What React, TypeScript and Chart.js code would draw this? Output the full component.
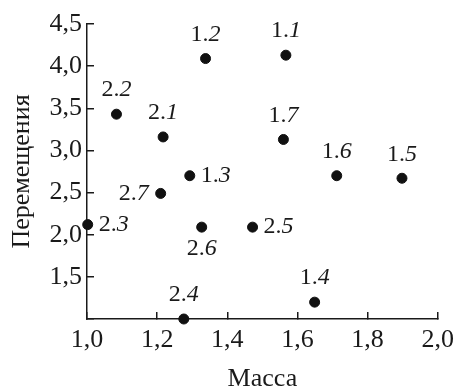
import React, { useEffect, useRef } from "react";
import { Chart, registerables } from "chart.js";

Chart.register(...registerables);

const pointNames = ["1.1", "1.2", "1.3", "1.4", "1.5", "1.6", "1.7", "2.1", "2.2", "2.3", "2.4", "2.5", "2.6", "2.7"];
const massValues = [1.567, 1.338, 1.293, 1.649, 1.898, 1.712, 1.56, 1.217, 1.084, 1.002, 1.276, 1.472, 1.327, 1.21];
const moveValues = [4.13, 4.09, 2.7, 1.2, 2.67, 2.7, 3.13, 3.16, 3.43, 2.12, 1.0, 2.09, 2.09, 2.49];
const labelSide = ["above", "above", "right", "above", "above", "above", "above", "above", "above", "right", "above", "right", "below", "left"];

const xTitle = "Масса";
const yTitle = "Перемещения";

const FONT = '"Liberation Serif", Tinos, "Times New Roman", serif';
const INK = "#1a1a1a";

const fmt = (v: number) => Number(v).toFixed(1).replace(".", ",");

const labelPlugin = {
  id: "pointNameLabels",
  afterDatasetsDraw(chart: any) {
    const meta = chart.getDatasetMeta(0);
    const ctx = chart.ctx;
    ctx.save();
    ctx.fillStyle = INK;
    ctx.textBaseline = "middle";
    ctx.textAlign = "left";
    meta.data.forEach((el: any, i: number) => {
      const name = pointNames[i];
      const dot = name.indexOf(".");
      const head = name.slice(0, dot + 1);
      const tail = name.slice(dot + 1);
      ctx.font = `24px ${FONT}`;
      const w1 = ctx.measureText(head).width;
      ctx.font = `italic 24px ${FONT}`;
      const w2 = ctx.measureText(tail).width;
      const total = w1 + w2;
      let left = el.x - total / 2;
      let cy = el.y;
      const side = labelSide[i];
      if (side === "above") cy = el.y - 24;
      else if (side === "below") cy = el.y + 22;
      else if (side === "right") left = el.x + 11;
      else if (side === "left") left = el.x - 12 - total;
      ctx.font = `24px ${FONT}`;
      ctx.fillText(head, left, cy);
      ctx.font = `italic 24px ${FONT}`;
      ctx.fillText(tail, left + w1, cy);
    });
    ctx.restore();
  },
};

export default function App() {
  const ref = useRef<HTMLCanvasElement>(null);

  useEffect(() => {
    if (!ref.current) return;
    let chart: any = null;
    let cancelled = false;
    const build = () => {
      if (cancelled || !ref.current) return;
      chart = new Chart(ref.current, {
        type: "scatter",
        data: {
          datasets: [
            {
              data: massValues.map((x, i) => ({ x, y: moveValues[i] })),
              backgroundColor: "#111",
              borderColor: "#111",
              pointRadius: 5,
              pointHoverRadius: 5,
              clip: false as any,
            },
          ],
        },
        options: {
          animation: false,
          responsive: false,
          events: [],
          layout: { padding: { top: 24, right: 18, left: 0, bottom: 0 } },
          plugins: { legend: { display: false }, tooltip: { enabled: false } },
          scales: {
            x: {
              type: "linear",
              min: 1,
              max: 2,
              afterFit: (s: any) => {
                s.height = 73;
              },
              border: { display: true, color: INK, width: 1.5 },
              grid: { drawOnChartArea: false, drawTicks: true, tickLength: -7, color: INK, lineWidth: 1.5 },
              ticks: {
                stepSize: 0.2,
                padding: 2,
                color: INK,
                font: { family: FONT, size: 26, lineHeight: 2 },
                maxRotation: 0,
                callback: (v: any) => fmt(v),
              },
              title: {
                display: true,
                text: xTitle,
                color: INK,
                font: { family: FONT, size: 26, lineHeight: 1 },
                padding: { top: 0, bottom: 0 },
              },
            },
            y: {
              type: "linear",
              min: 1,
              max: 4.5,
              afterFit: (s: any) => {
                s.width = 87;
              },
              border: { display: true, color: INK, width: 1.5 },
              grid: { drawOnChartArea: false, drawTicks: true, tickLength: -7, color: INK, lineWidth: 1.5 },
              ticks: {
                stepSize: 0.5,
                padding: 12,
                color: INK,
                font: { family: FONT, size: 26, lineHeight: 0.8 },
                callback: (v: any) => (Math.abs(v - 1) < 1e-9 ? "" : fmt(v)),
              },
              title: {
                display: true,
                text: yTitle,
                color: INK,
                font: { family: FONT, size: 26, lineHeight: 1 },
                padding: { top: 9, bottom: 0 },
              },
            },
          },
        },
        plugins: [labelPlugin],
      });
    };
    const fonts: any = (document as any).fonts;
    if (fonts && fonts.load) {
      Promise.all([
        fonts.load(`26px "Liberation Serif"`),
        fonts.load(`italic 24px "Liberation Serif"`),
      ])
        .catch(() => null)
        .then(build);
    } else {
      build();
    }
    return () => {
      cancelled = true;
      if (chart) chart.destroy();
    };
  }, []);

  return (
    <div style={{ position: "fixed", left: 0, top: 0, width: 456, height: 392, background: "#fff" }}>
      <canvas ref={ref} width={456} height={392} style={{ display: "block" }} />
    </div>
  );
}
